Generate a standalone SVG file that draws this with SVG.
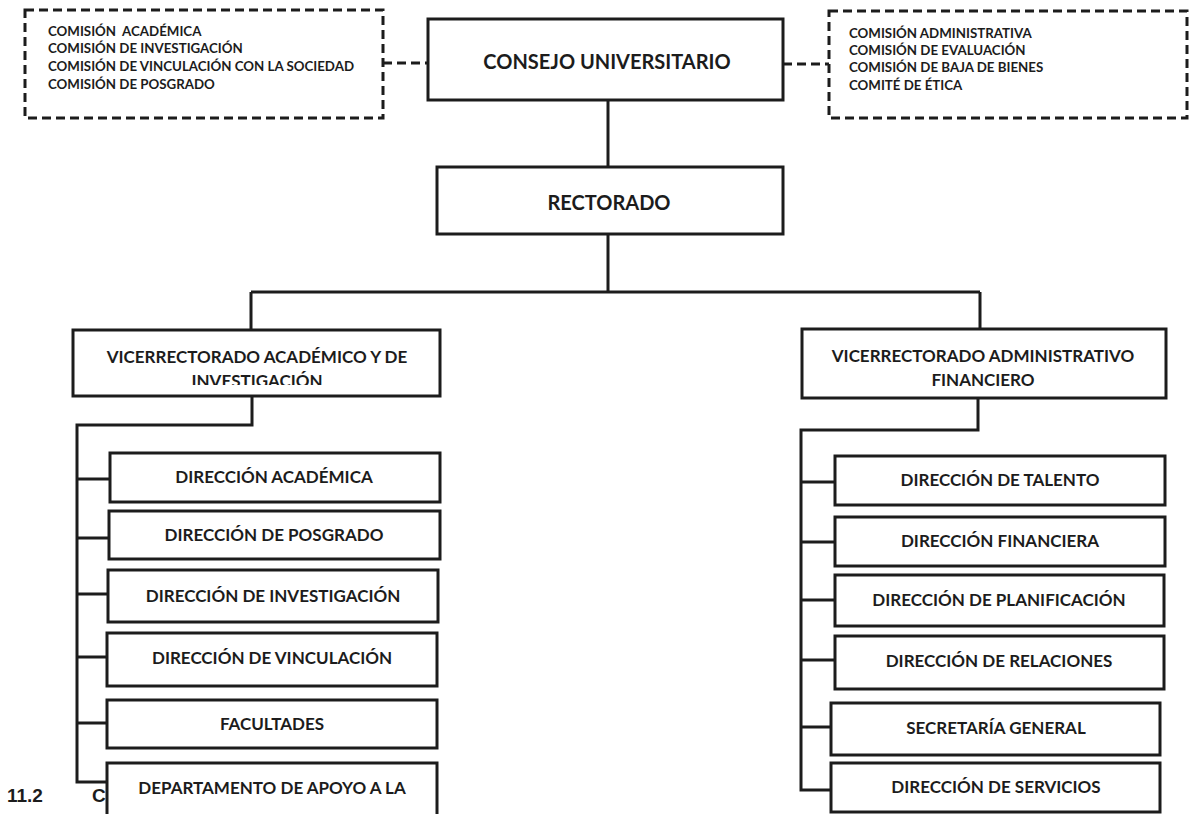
<svg xmlns="http://www.w3.org/2000/svg" width="1190" height="814" viewBox="0 0 1190 814">
<style>
.box{fill:#fff;stroke:#1c1c1c;stroke-width:3}
.dbox{fill:#fff;stroke:#1c1c1c;stroke-width:3;stroke-dasharray:9 5}
.con{fill:none;stroke:#1c1c1c;stroke-width:3}
.dcon{fill:none;stroke:#1c1c1c;stroke-width:3;stroke-dasharray:9 5}
.t{font-family:Lato,"Liberation Sans",sans-serif;font-weight:bold;fill:#1c1c1c;text-anchor:middle;font-size:17px}
.big{font-size:20px}
.s{font-family:Lato,"Liberation Sans",sans-serif;font-weight:bold;fill:#1c1c1c;font-size:13.3px}
.h{font-family:"Liberation Sans",Arial,sans-serif;font-weight:bold;fill:#1c1c1c;font-size:19px}
</style>
<defs>
<clipPath id="clipVA"><rect x="75" y="332" width="363" height="53"/></clipPath>
</defs>
<rect width="1190" height="814" fill="#fff"/>
<g id="heading">
<text class="h" x="7" y="802">11.2</text>
<text class="h" x="92" y="802">C</text>
</g>
<g id="connectors">
<path class="dcon" d="M383 63 H428"/>
<path class="dcon" d="M783 64 H829"/>
<path class="con" d="M608 100 V167"/>
<path class="con" d="M608 234 V292 M251 292 H980 M251 292 V330 M980 292 V329"/>
<path class="con" d="M252 396 V425 H77 V782 H107 M77 479 H110 M77 538 H109 M77 594 H108 M77 657 H107 M77 723 H107"/>
<path class="con" d="M978 398 V430 H801 V790 H831 M801 482 H835 M801 542 H835 M801 600 H835 M801 660 H835 M801 727 H831"/>
</g>
<g id="comisiones-academicas">
<rect class="dbox" x="25" y="10" width="358" height="108"/>
<text class="s" x="48" y="36" xml:space="preserve">COMISIÓN  ACADÉMICA</text>
<text class="s" x="48" y="53">COMISIÓN DE INVESTIGACIÓN</text>
<text class="s" x="48" y="71">COMISIÓN DE VINCULACIÓN CON LA SOCIEDAD</text>
<text class="s" x="48" y="89">COMISIÓN DE POSGRADO</text>
</g>
<g id="comisiones-administrativas">
<rect class="dbox" x="829" y="11" width="358" height="107"/>
<text class="s" x="849" y="38">COMISIÓN ADMINISTRATIVA</text>
<text class="s" x="849" y="55">COMISIÓN DE EVALUACIÓN</text>
<text class="s" x="849" y="72">COMISIÓN DE BAJA DE BIENES</text>
<text class="s" x="849" y="90">COMITÉ DE ÉTICA</text>
</g>
<g id="consejo">
<rect class="box" x="428" y="19" width="355" height="81"/>
<text class="t big" x="607" y="69">CONSEJO UNIVERSITARIO</text>
</g>
<g id="rectorado">
<rect class="box" x="437" y="167" width="346" height="67"/>
<text class="t big" x="609" y="210">RECTORADO</text>
</g>
<g id="vice-academico">
<rect class="box" x="73" y="330" width="367" height="66"/>
<text class="t" x="257" y="363">VICERRECTORADO ACADÉMICO Y DE</text>
<text class="t" x="257" y="387" clip-path="url(#clipVA)">INVESTIGACIÓN</text>
</g>
<g id="vice-administrativo">
<rect class="box" x="802" y="329" width="364" height="69"/>
<text class="t" x="983" y="362">VICERRECTORADO ADMINISTRATIVO</text>
<text class="t" x="983" y="386">FINANCIERO</text>
</g>
<g id="dir-academica">
<rect class="box" x="110" y="453" width="330" height="49"/>
<text class="t" x="274" y="483">DIRECCIÓN ACADÉMICA</text>
</g>
<g id="dir-posgrado">
<rect class="box" x="109" y="511" width="331" height="48"/>
<text class="t" x="274" y="541">DIRECCIÓN DE POSGRADO</text>
</g>
<g id="dir-investigacion">
<rect class="box" x="108" y="570" width="330" height="52"/>
<text class="t" x="273" y="602">DIRECCIÓN DE INVESTIGACIÓN</text>
</g>
<g id="dir-vinculacion">
<rect class="box" x="107" y="633" width="330" height="53"/>
<text class="t" x="272" y="664">DIRECCIÓN DE VINCULACIÓN</text>
</g>
<g id="facultades">
<rect class="box" x="107" y="700" width="330" height="48"/>
<text class="t" x="272" y="730">FACULTADES</text>
</g>
<g id="dep-apoyo">
<rect class="box" x="107" y="763" width="330" height="60"/>
<text class="t" x="272" y="794">DEPARTAMENTO DE APOYO A LA</text>
</g>
<g id="dir-talento">
<rect class="box" x="835" y="456" width="330" height="49"/>
<text class="t" x="1000" y="486">DIRECCIÓN DE TALENTO</text>
</g>
<g id="dir-financiera">
<rect class="box" x="835" y="517" width="330" height="49"/>
<text class="t" x="1000" y="547">DIRECCIÓN FINANCIERA</text>
</g>
<g id="dir-planificacion">
<rect class="box" x="835" y="575" width="329" height="51"/>
<text class="t" x="999" y="606">DIRECCIÓN DE PLANIFICACIÓN</text>
</g>
<g id="dir-relaciones">
<rect class="box" x="835" y="636" width="329" height="53"/>
<text class="t" x="999" y="667">DIRECCIÓN DE RELACIONES</text>
</g>
<g id="secretaria">
<rect class="box" x="831" y="703" width="329" height="52"/>
<text class="t" x="996" y="734">SECRETARÍA GENERAL</text>
</g>
<g id="dir-servicios">
<rect class="box" x="831" y="763" width="329" height="49"/>
<text class="t" x="996" y="793">DIRECCIÓN DE SERVICIOS</text>
</g>
</svg>
